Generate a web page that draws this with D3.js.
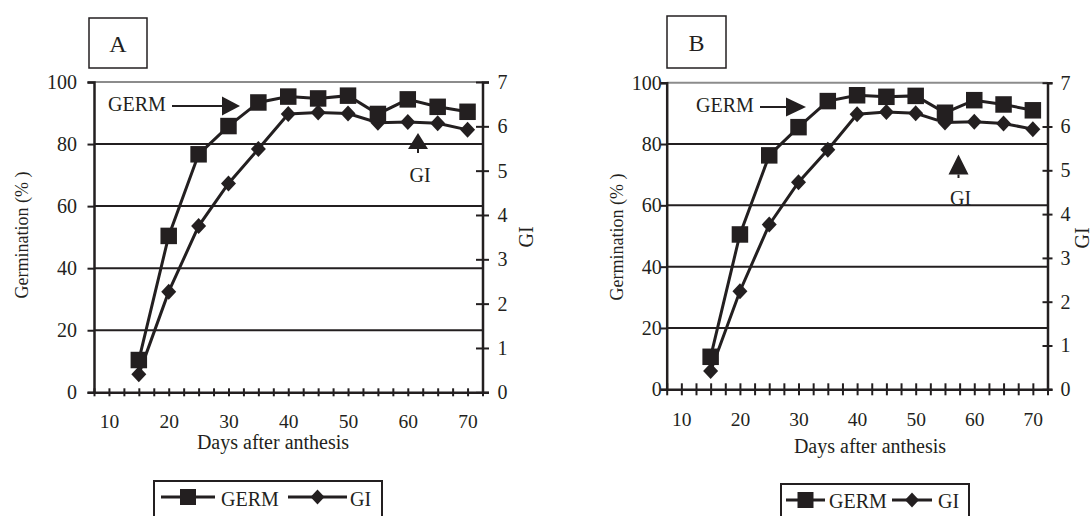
<!DOCTYPE html>
<html>
<head>
<meta charset="utf-8">
<script src="https://cdn.jsdelivr.net/npm/d3@7"></script>
<style>
  body { margin: 0; background: #fff; }
  svg { display: block; }
  svg text { font-family: "Liberation Serif", "Times New Roman", serif; }
</style>
</head>
<body>
<div class="chart"></div>
<script>
// data
const days = [15, 20, 25, 30, 35, 40, 45, 50, 55, 60, 65, 70];
const germA = [10.4, 50.4, 76.7, 85.8, 93.4, 95.3, 94.7, 95.6, 89.7, 94.4, 92.0, 90.4];
const giA = [0.41, 2.27, 3.75, 4.71, 5.49, 6.28, 6.31, 6.29, 6.08, 6.10, 6.07, 5.92];
const germB = [10.6, 50.5, 76.3, 85.5, 94.0, 95.9, 95.4, 95.7, 90.2, 94.3, 92.9, 91.0];
const giB = [0.42, 2.24, 3.76, 4.73, 5.47, 6.28, 6.33, 6.30, 6.09, 6.11, 6.07, 5.94];
const xTickLabels = [10, 20, 30, 40, 50, 60, 70];
const germTicks = [0, 20, 40, 60, 80, 100];
const giTicks = [0, 1, 2, 3, 4, 5, 6, 7];
const seriesNames = ['GERM', 'GI'];

/************************/
/*      Dimensions      */
/************************/
const width = 1092;
const height = 516;
const ink = '#231f20';
const serif = '"Liberation Serif", "Times New Roman", serif';

// layout of each panel (pixels)
const panels = [
  {
    label: 'A', germ: germA, gi: giA,
    left: 94, right: 482.5, top: 82, bottom: 392.3,
    box: { x: 89, y: 18, w: 58, h: 50 },
    leftTickOut: 6.5, leftLabelGap: 17, rightTick: 6.5, rightLabelGap: 15, xTick: 4,
    xLabelY: 428, xTitle: { x: 273, y: 449 }, yTitle: { x: 28, y: 235 }, giTitle: { x: 533, y: 237 },
    germNote: { x: 108, y: 111, lineEnd: 222, head: 240 },
    giNote: { x: 418, top: 133, base: 149, stem: 153, textY: 182 },
    legend: { x: 154, y: 481, w: 228, line1: [161, 215], text1: 221, line2: [288, 347], text2: 350, ly: 497, ty: 505.5 }
  },
  {
    label: 'B', germ: germB, gi: giB,
    left: 666.7, right: 1047.5, top: 82.7, bottom: 389.3,
    box: { x: 667, y: 16, w: 59, h: 52 },
    leftTickOut: 6, leftLabelGap: 5, rightTick: 5, rightLabelGap: 13, xTick: 6,
    xLabelY: 426, xTitle: { x: 870, y: 453 }, yTitle: { x: 623, y: 237 }, giTitle: { x: 1089, y: 238 },
    germNote: { x: 696, y: 112, lineEnd: 786, head: 806 },
    giNote: { x: 958.5, top: 154.5, base: 174.5, stem: 178, textY: 205 },
    legend: { x: 781, y: 484, w: 188, line1: [786, 825], text1: 829, line2: [892, 932], text2: 938, ly: 500, ty: 508 }
  }
];

const svg = d3.select('.chart')
  .append('svg')
    .attr('width', width)
    .attr('height', height)
    .attr('viewBox', `0 0 ${width} ${height}`);

const squarePath = (cx, cy, s) => `M${cx - s / 2},${cy - s / 2}h${s}v${s}h${-s}Z`;
const diamondPath = (cx, cy, w, h) => `M${cx},${cy - h / 2}L${cx + w / 2},${cy}L${cx},${cy + h / 2}L${cx - w / 2},${cy}Z`;

// restyle d3's default axis to the serif face and dark ink
const styleAxis = (sel, size) => {
  sel.attr('font-family', serif).attr('font-size', size);
  sel.select('.domain').attr('stroke', ink).attr('stroke-width', 2.5);
  sel.selectAll('line').attr('stroke', ink).attr('stroke-width', 2);
  sel.selectAll('text')
    .attr('font-family', serif)
    .attr('font-size', size)
    .attr('fill', ink);
};

const addText = (parent, str, size) => parent.append('text')
  .text(str)
  .attr('font-family', serif)
  .attr('font-size', size)
  .attr('fill', ink);

const drawPanel = (p) => {
  const g = svg.append('g');

  // scales
  const xScale = d3.scaleLinear().domain([7.5, 72.5]).range([p.left, p.right]);
  const yGerm = d3.scaleLinear().domain([0, 100]).range([p.bottom, p.top]);
  const yGi = d3.scaleLinear().domain([0, 7]).range([p.bottom, p.top]);

  // gridlines
  g.selectAll('.grid')
    .data(germTicks.filter(d => d > 0))
    .join('line')
      .attr('x1', p.left).attr('x2', p.right)
      .attr('y1', d => yGerm(d)).attr('y2', d => yGerm(d))
      .attr('stroke', d => d === 100 ? '#8c8c8c' : ink)
      .attr('stroke-width', 2);

  // left axis
  const leftAxis = d3.axisLeft(yGerm)
    .tickValues(germTicks)
    .tickFormat(d3.format('d'))
    .tickSize(p.leftTickOut)
    .tickPadding(p.leftLabelGap - p.leftTickOut);
  const la = g.append('g')
    .attr('transform', `translate(${p.left},0)`)
    .call(leftAxis);
  styleAxis(la, 20);

  // right axis
  const rightAxis = d3.axisRight(yGi)
    .tickValues(giTicks)
    .tickFormat(d3.format('d'))
    .tickSize(p.rightTick)
    .tickPadding(p.rightLabelGap - p.rightTick);
  const ra = g.append('g')
    .attr('transform', `translate(${p.right},0)`)
    .call(rightAxis);
  styleAxis(ra, 20);
  ra.selectAll('.tick line').attr('x1', -p.rightTick);

  // bottom axis, minor ticks every 2.5 days, labels every 10
  const minorTicks = d3.range(7.5, 72.6, 2.5);
  const bottomAxis = d3.axisBottom(xScale)
    .tickValues(minorTicks)
    .tickSize(p.xTick)
    .tickSizeOuter(0)
    .tickFormat(d => xTickLabels.includes(d) ? d : '');
  const ba = g.append('g')
    .attr('transform', `translate(0,${p.bottom})`)
    .call(bottomAxis);
  styleAxis(ba, 19.5);
  ba.selectAll('.tick line').attr('y1', -p.xTick);
  ba.selectAll('text')
    .attr('dy', null)
    .attr('y', p.xLabelY - p.bottom);

  // axis titles
  addText(g, 'Days after anthesis', 20)
    .attr('x', p.xTitle.x).attr('y', p.xTitle.y)
    .attr('text-anchor', 'middle');
  addText(g, 'Germination (% )', 18)
    .attr('transform', `translate(${p.yTitle.x},${p.yTitle.y}) rotate(-90)`)
    .attr('text-anchor', 'middle');
  addText(g, 'GI', 20)
    .attr('transform', `translate(${p.giTitle.x},${p.giTitle.y}) rotate(-90)`)
    .attr('text-anchor', 'middle');

  // series
  const germData = days.map((d, i) => ({ day: d, v: p.germ[i] }));
  const giData = days.map((d, i) => ({ day: d, v: p.gi[i] }));

  g.append('path')
    .datum(giData)
    .attr('fill', 'none').attr('stroke', ink).attr('stroke-width', 3)
    .attr('d', d3.line().x(d => xScale(d.day)).y(d => yGi(d.v)));
  g.append('path')
    .datum(germData)
    .attr('fill', 'none').attr('stroke', ink).attr('stroke-width', 3)
    .attr('d', d3.line().x(d => xScale(d.day)).y(d => yGerm(d.v)));

  g.selectAll('.gi-mark')
    .data(giData)
    .join('path')
      .attr('d', d => diamondPath(xScale(d.day), yGi(d.v), 15, 16))
      .attr('fill', ink);
  g.selectAll('.germ-mark')
    .data(germData)
    .join('path')
      .attr('d', d => squarePath(xScale(d.day), yGerm(d.v), 16.5))
      .attr('fill', ink);

  // panel letter box
  g.append('rect')
    .attr('x', p.box.x).attr('y', p.box.y)
    .attr('width', p.box.w).attr('height', p.box.h)
    .attr('fill', 'none').attr('stroke', ink).attr('stroke-width', 1.5);
  addText(g, p.label, 24)
    .attr('x', p.box.x + p.box.w / 2).attr('y', p.box.y + p.box.h / 2 + 8.5)
    .attr('text-anchor', 'middle');

  // GERM arrow note
  const gn = p.germNote;
  addText(g, seriesNames[0], 20)
    .attr('x', gn.x).attr('y', gn.y);
  const gnEnd = gn.x + 62;
  g.append('line')
    .attr('x1', gnEnd + 2).attr('x2', gn.lineEnd)
    .attr('y1', gn.y - 5).attr('y2', gn.y - 5)
    .attr('stroke', ink).attr('stroke-width', 2);
  g.append('path')
    .attr('d', `M${gn.lineEnd},${gn.y - 14.5}L${gn.head},${gn.y - 5}L${gn.lineEnd},${gn.y + 4.5}Z`)
    .attr('fill', ink);

  // GI arrow note
  const gi = p.giNote;
  g.append('path')
    .attr('d', `M${gi.x - 10},${gi.base}L${gi.x},${gi.top}L${gi.x + 10},${gi.base}Z`)
    .attr('fill', ink);
  g.append('line')
    .attr('x1', gi.x).attr('x2', gi.x)
    .attr('y1', gi.base).attr('y2', gi.stem)
    .attr('stroke', ink).attr('stroke-width', 2);
  addText(g, seriesNames[1], 20)
    .attr('x', gi.x + 2).attr('y', gi.textY)
    .attr('text-anchor', 'middle');

  // legend
  const lg = p.legend;
  g.append('rect')
    .attr('x', lg.x).attr('y', lg.y)
    .attr('width', lg.w).attr('height', 50)
    .attr('fill', 'none').attr('stroke', ink).attr('stroke-width', 2);
  g.append('line')
    .attr('x1', lg.line1[0]).attr('x2', lg.line1[1])
    .attr('y1', lg.ly).attr('y2', lg.ly)
    .attr('stroke', ink).attr('stroke-width', 3);
  g.append('path')
    .attr('d', squarePath((lg.line1[0] + lg.line1[1]) / 2, lg.ly, 16))
    .attr('fill', ink);
  addText(g, seriesNames[0], 20)
    .attr('x', lg.text1).attr('y', lg.ty);
  g.append('line')
    .attr('x1', lg.line2[0]).attr('x2', lg.line2[1])
    .attr('y1', lg.ly).attr('y2', lg.ly)
    .attr('stroke', ink).attr('stroke-width', 3);
  g.append('path')
    .attr('d', diamondPath((lg.line2[0] + lg.line2[1]) / 2, lg.ly, 14, 15))
    .attr('fill', ink);
  addText(g, seriesNames[1], 20)
    .attr('x', lg.text2).attr('y', lg.ty);
};

panels.forEach(drawPanel);
</script>
</body>
</html>
